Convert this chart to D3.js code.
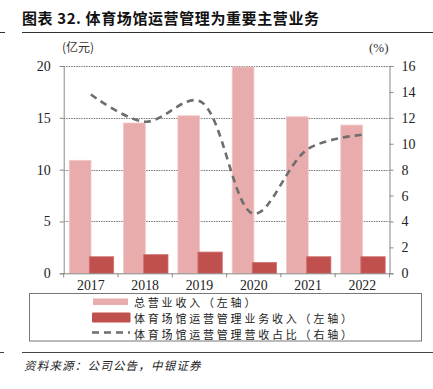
<!DOCTYPE html>
<html><head><meta charset="utf-8">
<script src="https://cdn.jsdelivr.net/npm/d3@7"></script>
<style>
body{margin:0;background:#fff;}
svg{display:block;}
</style></head>
<body>
<svg id="c" width="433" height="389"></svg>
<script>
const categories = ["2017","2018","2019","2020","2021","2022"];
const totalRevenue = [10.9, 14.5, 15.2, 19.9, 15.1, 14.3];
const venueRevenue = [1.6, 1.8, 2.05, 1.05, 1.6, 1.6];
const venueShare = [13.8, 11.7, 13.3, 4.6, 9.6, 10.7];
const leftTicks = [0,5,10,15,20];
const rightTicks = [0,2,4,6,8,10,12,14,16];
const seriesNames = ["总营业收入（左轴）","体育场馆运营管理业务收入（左轴）","体育场馆运营管理营收占比（右轴）"];

const svg = d3.select("#c");
const L = 63.7, R = 389.5, T = 66, B = 273.3;
const CJK = "'Noto Sans CJK SC', sans-serif";
const SERIF = "'Liberation Serif', 'Times New Roman', serif";

const x = d3.scaleBand().domain(categories).range([L, R]).padding(0);
const yL = d3.scaleLinear().domain([0,20]).range([B, T]);
const yR = d3.scaleLinear().domain([0,16]).range([B, T]);

// title
svg.append("text").attr("x",22).attr("y",24).attr("font-family",CJK).attr("font-weight","bold")
  .attr("font-size",15).attr("letter-spacing",0.6).attr("fill","#111").text("图表 32. 体育场馆运营管理为重要主营业务");
svg.append("line").attr("x1",22).attr("x2",433).attr("y1",32.5).attr("y2",32.5).attr("stroke","#333").attr("stroke-width",1);
svg.append("line").attr("x1",0).attr("x2",5).attr("y1",32.5).attr("y2",32.5).attr("stroke","#333").attr("stroke-width",1);

// unit labels
svg.append("text").attr("x",62).attr("y",52).attr("font-family",CJK).attr("font-size",12).attr("fill","#333").text("(亿元)");
svg.append("text").attr("x",369).attr("y",52).attr("font-family",SERIF).attr("font-size",13).attr("fill","#333").text("(%)");

// gridlines
svg.append("g").selectAll("line").data(leftTicks.filter(d=>d>0)).join("line")
  .attr("x1",L).attr("x2",R).attr("y1",d=>Math.round(yL(d))+0.5).attr("y2",d=>Math.round(yL(d))+0.5)
  .attr("stroke","#777").attr("stroke-width",1).attr("stroke-dasharray","1.5,1");

// bars
const bw1 = 21.7, bw2 = 24.4;
svg.append("g").selectAll("rect").data(totalRevenue).join("rect")
  .attr("x",(d,i)=>x(categories[i])+5.6).attr("width",bw1)
  .attr("y",d=>yL(d)).attr("height",d=>B-yL(d))
  .attr("fill","#E8ACAC").attr("stroke","#F2C8C8").attr("stroke-width",0.8);
svg.append("g").selectAll("rect").data(venueRevenue).join("rect")
  .attr("x",(d,i)=>x(categories[i])+25.6).attr("width",bw2)
  .attr("y",d=>yL(d)).attr("height",d=>B-yL(d))
  .attr("fill","#C0504D").attr("stroke","#D07573").attr("stroke-width",0.8);

// line
const line = d3.line().x((d,i)=>x(categories[i])+x.bandwidth()/2).y(d=>yR(d)).curve(d3.curveCatmullRom.alpha(0.5));
svg.append("path").datum(venueShare).attr("d",line).attr("fill","none")
  .attr("stroke","#6E6E6E").attr("stroke-width",2.6).attr("stroke-dasharray","7,5");

// axes
const axL = svg.append("g").attr("transform",`translate(${L},0)`)
  .call(d3.axisLeft(yL).tickValues(leftTicks).tickSize(4).tickPadding(9));
const axR = svg.append("g").attr("transform",`translate(${R},0)`)
  .call(d3.axisRight(yR).tickValues(rightTicks).tickSize(4).tickPadding(8));
const axX = svg.append("g").attr("transform",`translate(0,${B})`)
  .call(d3.axisBottom(x).tickSize(0).tickPadding(6.5));
// category boundary ticks
svg.append("g").selectAll("line").data(categories.concat(["end"])).join("line")
  .attr("x1",(d,i)=>L + i*x.bandwidth()).attr("x2",(d,i)=>L + i*x.bandwidth())
  .attr("y1",B).attr("y2",B+4).attr("stroke","#888");
[axL,axR,axX].forEach(a=>{
  a.selectAll("path").attr("stroke","#888");
  a.selectAll(".tick line").attr("stroke","#888");
  a.selectAll("text").attr("font-family",SERIF).attr("font-size",14).attr("fill","#222");
});
axX.selectAll("text").attr("font-size",13.8);
axX.select("path").attr("d",`M${L},0.5H${R}`);

// legend
svg.append("rect").attr("x",29.5).attr("y",293.5).attr("width",392).attr("height",47.5)
  .attr("fill","none").attr("stroke","#777").attr("stroke-width",1);
const lg = svg.append("g");
lg.append("rect").attr("x",93).attr("y",298.5).attr("width",35).attr("height",6.5).attr("fill","#E8ACAC");
lg.append("rect").attr("x",92).attr("y",312.5).attr("width",38.5).attr("height",10).attr("fill","#C0504D").attr("rx",1);
lg.append("line").attr("x1",92).attr("x2",130).attr("y1",332.5).attr("y2",332.5)
  .attr("stroke","#6E6E6E").attr("stroke-width",2.5).attr("stroke-dasharray","7,5");
lg.selectAll("text").data(seriesNames).join("text")
  .attr("x",134).attr("y",(d,i)=>307+i*16).attr("font-family",CJK).attr("font-size",11)
  .attr("letter-spacing",2.8).attr("fill","#222").text(d=>d);

// footer
svg.append("line").attr("x1",22).attr("x2",433).attr("y1",352.5).attr("y2",352.5).attr("stroke","#444").attr("stroke-width",1);
svg.append("line").attr("x1",0).attr("x2",4).attr("y1",352.5).attr("y2",352.5).attr("stroke","#444").attr("stroke-width",1);
svg.append("text").attr("x",24).attr("y",370).attr("font-family",CJK).attr("font-size",11.5)
  .attr("font-style","italic").attr("letter-spacing",1.2).attr("fill","#222").text("资料来源：公司公告，中银证券");
</script>
</body></html>
